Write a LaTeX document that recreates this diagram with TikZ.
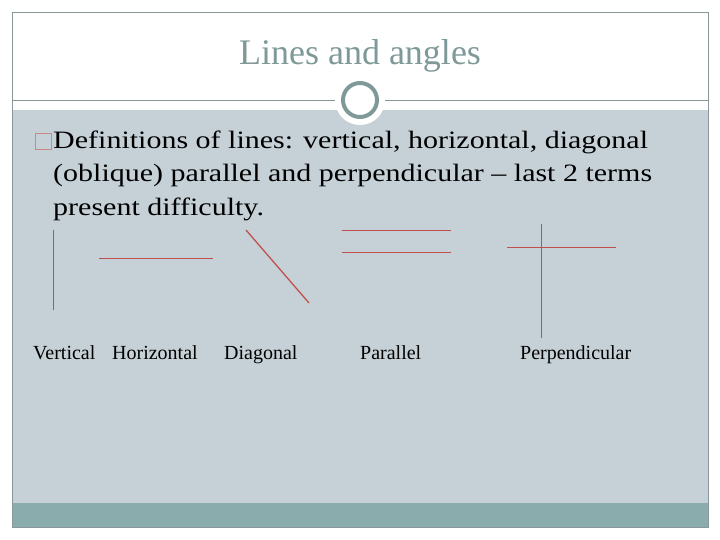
\documentclass[tikz,border=0pt]{standalone}
\usepackage{fontspec}
\setmainfont{Liberation Serif}
\newfontfamily\bodyfont[FakeStretch=1.2]{Liberation Serif}
\definecolor{slidebg}{HTML}{C6D1D7}
\definecolor{barcol}{HTML}{8AACAC}
\definecolor{framecol}{HTML}{8A9799}
\definecolor{titlecol}{HTML}{7F9999}
\definecolor{linecol}{HTML}{C0504D}
\definecolor{boxcol}{HTML}{C98A86}
\tikzset{
  defline/.style={draw=linecol, line width=1.3pt},
  lbl/.style={anchor=base west, inner sep=0pt, font=\fontsize{20}{24}\selectfont},
  bodyline/.style={anchor=base west, inner sep=0pt, font=\bodyfont\fontsize{25}{30}\selectfont},
}
\begin{document}
\begin{tikzpicture}[x=1pt, y=-1pt]
    \useasboundingbox (0,0) rectangle (720,540);
    \fill[white] (0,0) rectangle (720,540);
    \fill[slidebg] (12,110) rectangle (708,503);
    \fill[barcol] (12,503) rectangle (708,527);
    \draw[framecol] (12.5,12.5) rectangle (708.5,527.5);
    \draw[framecol] (12,100.5) -- (708,100.5);
    \fill[white] (360,100) circle (25pt);
    \draw[titlecol, line width=4pt] (360,100) circle (17pt);
    \node[text=titlecol, font=\fontsize{36}{42}\selectfont] (title) at (360,56) {Lines and angles};
    % bullet and text
    \node[draw=boxcol, line width=1pt, minimum size=16pt, inner sep=0pt] (bullet) at (43,142) {};
    \node[bodyline] (def1) at (53,149) {Definitions of lines: vertical, horizontal, diagonal};
    \node[bodyline] (def2) at (53,182) {(oblique) parallel and perpendicular \textendash{} last 2 terms};
    \node[bodyline] (def3) at (53,215) {present difficulty.};
    % the lines
    \draw[defline] (53.5,230) -- (53.5,310);
    \draw[defline] (99,258.5) -- (213,258.5);
    \draw[defline] (246,230) -- (309,303);
    \draw[defline] (342,230.5) -- (451,230.5);
    \draw[defline] (342,252.5) -- (451,252.5);
    \draw[defline] (507,247.5) -- (616,247.5);
    \draw[defline] (541.5,224) -- (541.5,338);
    % labels
    \node[lbl] (vert) at (33,359) {Vertical};
    \node[lbl] (horiz) at (112,359) {Horizontal};
    \node[lbl] (diag) at (224,359) {Diagonal};
    \node[lbl] (par) at (360,359) {Parallel};
    \node[lbl] (perp) at (520,359) {Perpendicular};
\end{tikzpicture}
\end{document}
